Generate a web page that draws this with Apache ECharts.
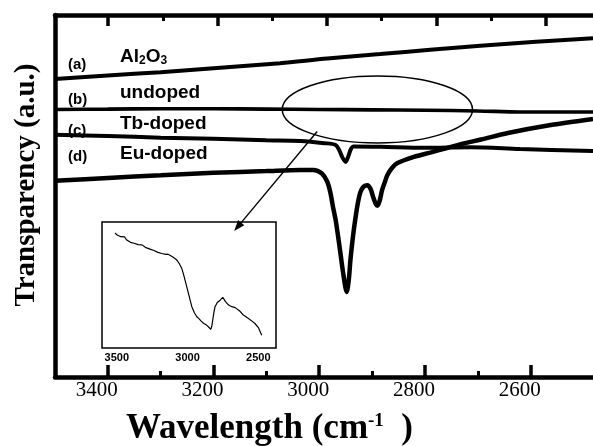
<!DOCTYPE html>
<html>
<head>
<meta charset="utf-8">
<script src="https://cdn.jsdelivr.net/npm/echarts@6/dist/echarts.min.js"></script>
<style>
  html, body { margin: 0; padding: 0; background: #fff; }
  #chart { width: 593px; height: 446px; }
</style>
</head>
<body>
<div id="chart"></div>
<script>
// IR transparency spectra, wavenumber (cm^-1) vs transparency (a.u.)
const al2o3 = [[3500,82.3],[3400,83.3],[3300,84.2],[3200,85.3],[3074,86.7],[2985,88.0],[2885,89.2],[2790,90.4],[2695,91.5],[2590,92.6],[2482,93.6]];
const undoped = [[3500,73.9],[3400,74.0],[3300,74.1],[3200,74.1],[3100,74.0],[3000,73.9],[2900,73.8],[2800,73.7],[2700,73.5],[2620,73.2],[2550,73.2],[2482,73.2]];
const tbDoped = [[3500,66.9],[3400,66.6],[3300,66.1],[3200,65.8],[3100,65.4],[3036,65.2],[2990,64.6],[2969,64.1],[2962,62.6],[2956,60.6],[2950,59.4],[2945,61.0],[2940,63.0],[2935,63.7],[2884,63.6],[2800,63.3],[2714,63.5],[2620,63.0],[2482,62.4]];
const euDoped = [[3500,54.2],[3400,55.0],[3300,55.7],[3200,56.4],[3100,56.9],[3036,57.2],[3011,57.2],[2995,56.2],[2985,54.0],[2979,51.0],[2974,47.0],[2969,43.4],[2964,38.5],[2960,34.3],[2954,28.0],[2948,23.5],[2944,27.0],[2941,32.3],[2936,39.0],[2932,43.4],[2927,48.0],[2922,51.1],[2916,52.6],[2909,53.0],[2903,52.0],[2898,49.7],[2893,47.8],[2890,47.3],[2886,48.5],[2881,51.7],[2876,53.8],[2871,55.8],[2862,57.8],[2852,59.1],[2821,60.8],[2790,62.0],[2760,63.2],[2730,64.4],[2694,65.6],[2643,67.4],[2562,69.6],[2482,71.3]];

// Enlarged C-H region of the Eu-doped film (inset)
const insetCurve = [[3512,5.02],[3498,4.93],[3486,4.98],[3472,4.86],[3460,4.82],[3446,4.85],[3432,4.73],[3418,4.71],[3404,4.62],[3392,4.67],[3378,4.58],[3364,4.61],[3350,4.52],[3336,4.47],[3322,4.51],[3308,4.43],[3294,4.39],[3280,4.34],[3266,4.33],[3253,4.29],[3238,4.27],[3224,4.22],[3210,4.19],[3196,4.21],[3182,4.14],[3168,4.15],[3154,4.10],[3138,4.11],[3124,4.07],[3110,4.01],[3092,3.94],[3076,3.86],[3060,3.72],[3041,3.50],[3030,3.28],[3018,3.00],[3006,2.72],[2994,2.43],[2982,2.14],[2970,1.86],[2952,1.60],[2935,1.43],[2918,1.34],[2904,1.24],[2888,1.15],[2870,1.09],[2860,1.02],[2853,1.00],[2844,0.94],[2836,0.89],[2829,1.02],[2822,1.29],[2814,1.62],[2806,1.86],[2790,2.04],[2770,2.14],[2760,2.22],[2751,2.26],[2742,2.20],[2732,2.08],[2722,2.00],[2710,1.93],[2698,1.88],[2688,1.86],[2676,1.87],[2664,1.82],[2650,1.78],[2636,1.70],[2620,1.60],[2606,1.50],[2590,1.44],[2575,1.38],[2558,1.30],[2540,1.22],[2524,1.14],[2511,1.07],[2498,0.95],[2486,0.78],[2476,0.64]];

// Tick values
const majorTicks = [3400, 3200, 3000, 2800, 2600];
const minorTicksBottom = [3300, 3100, 2900, 2700];
const minorTicksTop = [3300, 3100, 2900, 2700];
const insetXLabels = [3500, 3000, 2500];
const insetYTicks = [1, 2, 3, 4, 5];

// Callout: ring around the C-H band and an arrow to the inset (data units)
const calloutRing = { center: [2890, 73.9], halfWidth: 180, halfHeight: 9.25 };
const calloutArrow = { from: [3004, 67.8], to: [3161, 40.3] };

const SERIF = '"Liberation Serif", "Times New Roman", serif';
const SANS = '"Liberation Sans", Arial, sans-serif';
const INK = '#000';

const chart = echarts.init(document.getElementById('chart'), null, { renderer: 'canvas' });

const mainRect = { left: 55, top: 15, right: 0, bottom: 69 };
const plain = v => String(v);

function hiddenLabel() { return { show: false }; }

const option = {
  backgroundColor: '#fff',
  animation: false,
  grid: [
    Object.assign({}, mainRect),
    { left: 102, top: 222, width: 174, height: 126, show: true, borderColor: INK, borderWidth: 1.5, backgroundColor: '#fff', z: 3 },
    Object.assign({}, mainRect)
  ],
  xAxis: [
    { // bottom axis carrying the data, major ticks + labels
      gridIndex: 0, type: 'value', inverse: true, min: 2482, max: 3500, position: 'bottom',
      axisLine: { onZero: false, lineStyle: { color: INK, width: 4.5 } },
      axisTick: { inside: true, length: 12, lineStyle: { color: INK, width: 3.5 }, customValues: majorTicks },
      axisLabel: { customValues: majorTicks, formatter: plain, color: INK, fontFamily: SERIF, fontSize: 21, margin: 3, padding: [0, 22, 0, 0] },
      splitLine: { show: false }
    },
    { // top frame, major ticks
      gridIndex: 0, type: 'value', inverse: true, min: 2514, max: 3497, position: 'top',
      axisLine: { onZero: false, lineStyle: { color: INK, width: 4.5 } },
      axisTick: { inside: true, length: 11, lineStyle: { color: INK, width: 3.5 }, customValues: majorTicks },
      axisLabel: hiddenLabel(), splitLine: { show: false }
    },
    { // bottom minor ticks
      gridIndex: 2, type: 'value', inverse: true, min: 2482, max: 3500, position: 'bottom',
      axisLine: { show: false, onZero: false },
      axisTick: { inside: true, length: 6, lineStyle: { color: INK, width: 3 }, customValues: minorTicksBottom },
      axisLabel: hiddenLabel(), splitLine: { show: false }
    },
    { // top minor ticks
      gridIndex: 2, type: 'value', inverse: true, min: 2514, max: 3497, position: 'top',
      axisLine: { show: false, onZero: false },
      axisTick: { inside: true, length: 6, lineStyle: { color: INK, width: 3 }, customValues: minorTicksTop },
      axisLabel: hiddenLabel(), splitLine: { show: false }
    },
    { // inset
      gridIndex: 1, type: 'value', inverse: true, min: 2375, max: 3605, position: 'bottom',
      axisLine: { show: false, onZero: false },
      axisTick: { show: false },
      axisLabel: { customValues: insetXLabels, formatter: plain, color: INK, fontFamily: SANS, fontWeight: 'bold', fontSize: 11, margin: 4 },
      splitLine: { show: false }
    }
  ],
  yAxis: [
    {
      gridIndex: 0, type: 'value', min: 0, max: 100, position: 'left',
      axisLine: { show: true, onZero: false, lineStyle: { color: INK, width: 4.5 } },
      axisTick: { show: false }, axisLabel: hiddenLabel(), splitLine: { show: false }
    },
    { gridIndex: 2, type: 'value', min: 0, max: 100, show: false },
    {
      gridIndex: 1, type: 'value', min: 0.09, max: 5.49, position: 'left',
      axisLine: { show: false, onZero: false },
      axisTick: { show: true, inside: true, length: 3, lineStyle: { color: INK, width: 1.2 }, customValues: insetYTicks },
      axisLabel: hiddenLabel(), splitLine: { show: false }
    }
  ],
  series: [
    { name: 'Al2O3', type: 'line', xAxisIndex: 0, yAxisIndex: 0, data: al2o3, showSymbol: false, smooth: 0.3, lineStyle: { color: INK, width: 4 } },
    { name: 'undoped', type: 'line', xAxisIndex: 0, yAxisIndex: 0, data: undoped, showSymbol: false, smooth: 0.3, lineStyle: { color: INK, width: 3.6 } },
    { name: 'Tb-doped', type: 'line', xAxisIndex: 0, yAxisIndex: 0, data: tbDoped, showSymbol: false, smooth: 0.3, lineStyle: { color: INK, width: 4 } },
    { name: 'Eu-doped', type: 'line', xAxisIndex: 0, yAxisIndex: 0, data: euDoped, showSymbol: false, smooth: 0.3, lineStyle: { color: INK, width: 4.5 } },
    { name: 'inset', type: 'line', xAxisIndex: 4, yAxisIndex: 2, data: insetCurve, showSymbol: false, smooth: false, z: 5, lineStyle: { color: INK, width: 1.2 } }
  ]
};

chart.setOption(option);

function txt(x, y, text, font, extra) {
  return Object.assign({
    type: 'text', x: x, y: y, z: 20,
    style: { text: text, font: font, fill: INK, align: 'left', textAlign: 'left', verticalAlign: 'middle', textVerticalAlign: 'middle' }
  }, extra || {});
}

// ring, arrow and labels drawn after the axes exist so data units can be converted
const c = chart.convertToPixel({ gridIndex: 0 }, calloutRing.center);
const e1 = chart.convertToPixel({ gridIndex: 0 }, [calloutRing.center[0] - calloutRing.halfWidth, calloutRing.center[1] + calloutRing.halfHeight]);
const rx = Math.abs(e1[0] - c[0]);
const ry = Math.abs(e1[1] - c[1]);

const a0 = chart.convertToPixel({ gridIndex: 0 }, calloutArrow.from);
const a1 = chart.convertToPixel({ gridIndex: 0 }, calloutArrow.to);
const ang = Math.atan2(a1[1] - a0[1], a1[0] - a0[0]);
const headLen = 11, headHalf = 4;
const hb = [a1[0] - headLen * Math.cos(ang), a1[1] - headLen * Math.sin(ang)];
const head = [
  a1,
  [hb[0] + headHalf * Math.sin(ang), hb[1] - headHalf * Math.cos(ang)],
  [hb[0] - headHalf * Math.sin(ang), hb[1] + headHalf * Math.cos(ang)]
];

const tagFont = 'bold 15px ' + SANS;
const nameFont = 'bold 19px ' + SANS;

chart.setOption({
  graphic: [
    { type: 'ellipse', z: 10, shape: { cx: c[0], cy: c[1], rx: rx, ry: ry }, style: { fill: 'none', stroke: INK, lineWidth: 1.5 } },
    { type: 'line', z: 10, shape: { x1: a0[0], y1: a0[1], x2: hb[0], y2: hb[1] }, style: { stroke: INK, lineWidth: 1.4 } },
    { type: 'polygon', z: 10, shape: { points: head }, style: { fill: INK } },
    txt(68, 65, '(a)', tagFont),
    txt(68, 100, '(b)', tagFont),
    txt(68, 131, '(c)', tagFont),
    txt(68, 157, '(d)', tagFont),
    {
      type: 'text', x: 120, y: 57, z: 20,
      style: {
        text: '{m|Al}{s|2}{m|O}{s|3}', fill: INK, align: 'left', verticalAlign: 'middle',
        rich: {
          m: { fontFamily: SANS, fontWeight: 'bold', fontSize: 19, fill: INK },
          s: { fontFamily: SANS, fontWeight: 'bold', fontSize: 12, fill: INK, verticalAlign: 'bottom', padding: [8, 0, 0, 0] }
        }
      }
    },
    txt(120, 93, 'undoped', nameFont),
    txt(120, 123.5, 'Tb-doped', nameFont),
    txt(120, 153.5, 'Eu-doped', nameFont),
    {
      type: 'text', x: 26.5, y: 185, rotation: Math.PI / 2, z: 20,
      style: { text: 'Transparency (a.u.)', font: 'bold 29px ' + SERIF, fill: INK, align: 'center', textAlign: 'center', verticalAlign: 'middle', textVerticalAlign: 'middle' }
    },
    {
      type: 'text', x: 126, y: 429, z: 20,
      style: {
        text: '{b|Wavelength (cm}{s|-1}{b|  )}', fill: INK, align: 'left', verticalAlign: 'middle',
        rich: {
          b: { fontFamily: SERIF, fontWeight: 'bold', fontSize: 35, fill: INK },
          s: { fontFamily: SERIF, fontWeight: 'bold', fontSize: 19, fill: INK, verticalAlign: 'top' }
        }
      }
    }
  ]
});
</script>
</body>
</html>
